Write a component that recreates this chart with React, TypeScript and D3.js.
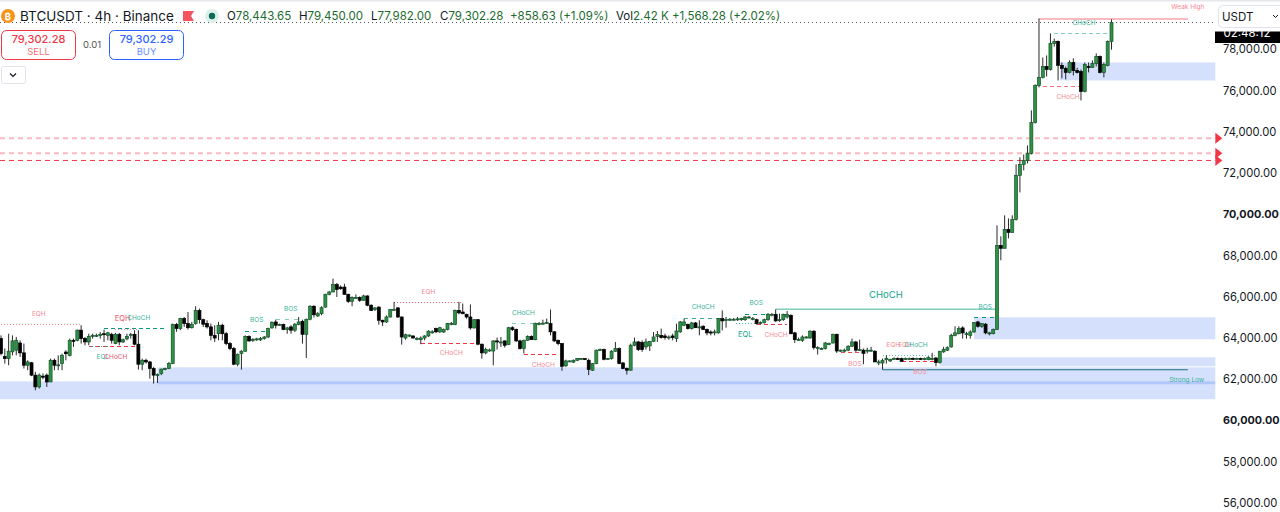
import React, { useEffect, useRef } from 'react';
import * as d3 from 'd3';

const FONT = 'Inter, Roboto, sans-serif';

// open, high, low, close of every 4h candle
const ohlc: number[][] = [
  [63970,64130,63160,63250],[63110,63490,62760,63000],[63000,64210,62680,63360],[63330,64130,63160,63860],
  [63410,64050,63160,63890],[63760,63890,63080,63280],[63280,63730,62520,62680],[62680,62920,62440,62840],
  [62800,62840,62150,62200],[62200,62360,61470,61630],[61630,62280,61550,62200],[62150,62280,62000,62100],
  [62200,62280,61630,61870],[61870,63000,61870,62920],[62920,63000,62440,62680],[62680,63160,62440,62700],
  [62760,63240,62440,63160],[63320,63410,62920,63240],[63160,63970,63110,63890],[63890,63970,63570,63840],
  [63890,64410,63840,64380],[64380,64620,63730,63970],[63970,64050,63650,63810],[63810,64210,63650,64080],
  [64100,64210,63970,64130],[64110,64210,64050,64130],[64130,64290,63970,64170],[64210,64410,63810,64160],
  [64130,64300,63890,64250],[64180,64250,63730,63890],[63730,64250,63700,64180],[64180,64250,63650,63810],
  [63810,63970,63760,63920],[63960,64210,63890,64080],[64170,64250,63970,64180],[64180,64380,63650,63700],
  [63700,64380,62470,62730],[62730,63000,62440,62920],[62920,63000,62760,62840],[62840,62890,62030,62520],
  [62520,62600,61790,62200],[62200,62280,61820,62230],[62280,62520,62200,62490],[62490,62560,62440,62520],
  [62520,62840,62490,62760],[62760,64700,62730,64650],[64650,64730,64300,64460],[64460,64980,64380,64940],
  [64940,65020,64540,64700],[64700,65260,64410,64500],[64500,64780,64460,64650],[64700,65540,64650,65340],
  [65340,65430,64700,64890],[64890,64940,64540,64670],[64700,64860,64460,64540],[64540,64700,63890,64130],
  [64130,64620,63810,64000],[64210,64780,63890,64620],
  [64620,64700,63890,64210],[64210,64300,63650,63730],[63730,63810,63410,63490],[63490,63570,62680,62730],
  [62730,63250,62630,63210],[63250,63410,62470,63360],[63360,64130,63330,64080],[64080,64130,63810,63860],
  [63880,63990,63810,63940],[63940,64010,63860,63960],[63910,64050,63860,63970],[63970,64100,63920,64050],
  [64050,64500,64000,64460],[64490,64810,64460,64760],[64780,64890,64460,64620],[64650,64700,64600,64660],
  [64650,64700,64380,64410],[64410,64540,64210,64490],[64540,64620,64210,64380],[64380,64730,64290,64670],
  [64650,65020,64620,64780],[64810,64890,63730,64180],[64180,64940,63030,64910],[64910,65590,64860,65540],
  [65540,65590,65000,65130],[65070,65260,65020,65180],[65180,65540,65100,65470],[65500,66150,65470,66120],
  [66120,66280,66070,66230],[66230,66880,66230,66590],[66590,66670,65990,66360],[66470,66550,66340,66390],
  [66470,66630,66100,66120],[66120,66150,65700,65780],[65780,66020,65540,65960],[65950,66120,65910,65960],
  [65960,66020,65750,65830],[65830,66100,65800,66040],[66040,66070,65540,65590],[65590,65630,65310,65340],
  [65380,65500,65310,65460],[65500,65540,64650,64860],[64860,64890,64580,64780],[64780,65100,64730,65020],
  [65020,65410,64990,65380],[65380,65750,65340,65390],[65460,65500,64970,65020],[65020,65050,63680,64050],
  [64000,64210,63920,64160],[64130,64180,64050,64140],[64100,64130,63970,64000],[63970,64050,63890,63980],
  [63920,64080,63700,64000],[64000,64130,63890,64100],[64100,64380,64050,64330],[64290,64380,64210,64300],
  [64460,64500,64240,64300],[64300,64540,64240,64500],
  [64290,64460,64250,64410],[64410,64730,64375,64700],[64690,64780,64620,64700],[64650,65380,64620,65340],
  [65340,65750,65150,65220],[65260,65670,65150,65180],[65150,65180,64940,65020],[65020,65630,64410,64490],
  [64490,64920,64460,64890],[64890,64920,63650,63700],[63700,63730,63000,63280],[63280,63530,63210,63440],
  [63410,63490,63330,63420],[63370,63890,62680,63860],[63860,64020,63440,63810],[63800,64050,63570,63810],
  [63860,63890,63540,63650],[63680,64540,63650,64500],[64500,64570,64340,64410],[64410,64460,63810,63860],
  [63860,63920,63440,63490],[63490,63920,63250,63890],[63890,64130,63860,64080],[64080,64130,63920,63920],
  [63920,64750,63890,64700],[64690,64780,64620,64700],[64700,64890,64650,64720],[64720,64940,64690,64750],
  [64700,65380,64130,64300],[64300,64340,63810,63860],[63890,63920,63650,63730],[63730,63760,62410,62630],
  [62650,62950,62600,62890],[62880,62920,62840,62890],[62830,62960,62790,62920],[62920,63030,62890,63000],
  [62990,63030,62950,63000],[63000,63030,62950,62990],[62920,63000,62200,62470],[62440,62790,62410,62760],
  [62760,63440,62730,63410],[63430,63490,63390,63440],[63440,63490,62920,62970],[63000,63030,62950,63010],
  [63000,63410,62950,63360],[63360,63810,63330,63490],[63490,63540,62730,62760],[62790,62840,62490,62520],
  [62520,62570,62230,62440],[62440,63730,62410,63650],[63650,64020,63600,63810],[63810,63860,63370,63440],
  [63780,63890,63330,63440],[63570,63970,63440,63810],[63620,63840,63370,63840],[63840,64290,63810,64050],
  [64080,64340,63810,64170],
  [64130,64460,63970,64020],[64100,64210,63920,64020],[64030,64130,63920,64050],[64100,64210,63890,64020],
  [63970,64700,63810,64340],[64300,64830,64250,64780],[64620,64940,64570,64780],[64650,64700,64410,64460],
  [64460,64780,64410,64730],[64730,64780,64500,64500],[64530,64860,64130,64540],[64570,64620,64410,64410],
  [64410,64460,64130,64250],[64290,64370,64130,64250],[64290,64410,64130,64300],[64250,64970,64210,64940],
  [64940,65340,64370,64830],[64890,65020,64500,64900],[64900,64970,64830,64910],[64900,64970,64860,64910],
  [64910,65020,64830,64930],[64890,64990,64830,64940],[64890,65070,64830,65020],[65010,65070,64940,65020],
  [64930,65020,64860,64940],[64890,64940,64650,64700],[64740,64810,64670,64750],[64750,64940,64700,64890],
  [64890,65210,64830,65150],[65140,65210,65050,65150],[65150,65390,64780,64830],[64880,65180,64780,64890],
  [64890,65180,64830,65150],[65020,65310,64940,65150],[65100,65150,64180,64210],[64250,64300,63760,63920],
  [63920,64020,63860,63930],[63890,64130,63810,64050],[64040,64100,63970,64050],[64000,64380,63970,64330],
  [64330,64380,63440,63540],[63530,63600,63200,63540],[63480,63540,63440,63490],[63490,63810,63440,63760],
  [63720,63780,63650,63730],[63760,64210,63730,64180],[64180,64210,63280,63370],[63400,63440,63330,63410],
  [63400,63490,63330,63410],[63410,63650,63360,63600],[63600,63970,63570,63810],[63810,63860,63330,63410],
  [63430,63920,63370,63440],[63410,63490,62730,63250],[63400,63530,63250,63410],[63400,63570,63330,63410],
  [63360,63410,62840,62840],[62830,62950,62680,62840],
  [62790,63000,62470,62920],[62990,63160,62760,63000],[62890,62990,62840,62970],[62990,63060,62950,63000],
  [63000,63060,62950,62990],[63000,63050,62870,62870],[62990,63050,62950,63000],[63000,63050,62950,63010],
  [63010,63060,62950,63000],[63000,63050,62960,63010],[63010,63050,62950,63000],[62970,63050,62920,63000],
  [62950,63120,62920,63050],[62990,63280,62920,63000],[63030,63080,62630,62810],[62810,63360,62760,63360],
  [63330,63570,63280,63440],[63410,63600,63370,63530],[63570,64210,63530,64130],[64130,64570,64080,64250],
  [64210,64570,64180,64460],[64490,64570,63970,64250],[64200,64300,63970,64210],[64130,64375,63970,64295],
  [64295,64750,64250,64750],[64780,64830,64500,64570],[64570,64730,64500,64700],[64670,64730,64180,64250],
  [64240,64300,64130,64250],[64210,64460,64180,64420],
  [64420,69460,64400,68490],[68490,68930,67770,68350],[68350,69950,68350,69270],[69270,69800,68830,69120],
  [69120,69950,69100,69750],[69750,72420,69700,71890],[71890,72760,71060,72420],[72420,72900,72130,72610],
  [72610,73340,72470,72950],[72950,75040,72900,74450],[74450,76300,74400,76250],[76250,79490,76150,76635],
  [76640,77600,76590,77170],[77170,77700,76680,77020],[77020,78770,76970,78280],[78280,78520,78130,78380],
  [78380,78430,76490,77220],[77220,77360,76590,77070],[77070,77170,76540,76880],[76880,77460,76830,77360],
  [77360,77560,76730,76970],[76970,77100,76830,76880],[76930,77020,75520,75960],[75960,77360,75910,77260],
  [77170,77360,76880,77120],[77120,77460,77100,77310],[77310,77800,77170,77650],[77650,77700,76830,76880],
  [76880,77360,76640,77260],[77220,78430,77170,78380],[78380,79450,77980,79300],
];

const priceTicks = [56000, 58000, 60000, 62000, 64000, 66000, 68000, 70000, 72000, 74000, 76000, 78000];
const boldTicks = [60000, 70000];

// [first candle, last candle, top, bottom] of the demand boxes
const RIGHT_EDGE = 318.2;
const zones: number[][] = [
  [-0.3, RIGHT_EDGE, 61900, 61030],
  [41, RIGHT_EDGE, 62580, 61760],
  [246, RIGHT_EDGE, 63066, 62630],
  [255, RIGHT_EDGE, 65005, 63938],
  [277.5, RIGHT_EDGE, 77362, 76490],
];

const alertLevels = [73690, 72960, 72610];
const alertOpacity = [0.35, 0.35, 1];
const alertWidth = [2, 2, 1];
const lastPrice = 79302.28;

type Level = [number, number, number, string, string, number];
const RED = '#f23645';
const TEAL = '#089981';
// [from, to, price, colour, dash, opacity]
const levels: Level[] = [
  [0, 21, 64650, RED, '1 2', 0.6],
  [30, 36, 64420, RED, '1 2', 0.6],
  [27, 43, 64470, TEAL, '4 3', 1],
  [23, 35, 63600, RED, '4 3', 1],
  [23, 28, 63600, TEAL, '1 2', 0.8],
  [64, 70, 64326, TEAL, '4 4', 1],
  [72, 78, 64908, TEAL, '4 5', 0.5],
  [103, 121, 65731, RED, '1 2', 0.8],
  [110, 124, 63730, RED, '4 3', 1],
  [134, 140, 64714, TEAL, '4 5', 0.5],
  [137, 146, 63211, RED, '4 3', 1],
  [179, 188, 64956, TEAL, '4 4', 0.8],
  [195, 201, 65150, TEAL, '4 4', 1],
  [192.5, 198, 64714, TEAL, '1 2', 0.7],
  [198, 206, 64650, RED, '4 3', 1],
  [220, 226, 63274, RED, '4 3', 0.9],
  [231, 245, 63130, TEAL, '1 2', 0.6],
  [236, 245, 62872, RED, '4 3', 1],
  [255, 260.5, 65005, TEAL, '4 4', 1],
  [273, 283, 76184, RED, '4 3', 0.7],
  [276, 290, 78782, TEAL, '4 3', 0.5],
];

// [from, to, price, colour, width]
const structureLines: [number, number, number, string, number][] = [
  [203, 261, 65392, '#7fcdbb', 1.4],
  [272, 311, 79470, '#f7727d', 1.2],
  [231, 311, 62460, '#1d6f78', 1],
];

const labelTexts = ['EQH', 'EQH', 'CHoCH', 'EQL', 'CHoCH', 'BOS', 'BOS', 'EQH', 'CHoCH', 'CHoCH', 'CHoCH', 'CHoCH', 'BOS', 'EQL', 'CHoCH', 'CHoCH', 'BOS', 'EQH', 'EQH', 'CHoCH', 'BOS', 'BOS', 'CHoCH', 'CHoCH', 'Weak High', 'Strong Low'];
const labelCandles = [9.9, 31.9, 36.1, 26.7, 30.1, 67, 75.9, 112, 118, 136.9, 142.1, 184, 197.9, 195, 203.1, 231.9, 223.8, 233.8, 236.9, 239.8, 240.8, 257.9, 279.6, 283.8, 311, 310.7];
const labelPrices = [65150, 64908, 64956, 63066, 63066, 64860, 65392, 66216, 63260, 65198, 62678, 65489, 65683, 64156, 64132, 66070, 62727, 63648, 63648, 63648, 62339, 65513, 75666, 79276, 80027, 61952];
const labelColors = ['p', 'r', 't', 't', 'r', 't', 't', 'p', 'p', 't', 'p', 't', 't', 'd', 'p', 'd', 'p', 'p', 'p', 't', 'p', 't', 'p', 't', 'p', 't'];
const labelColorMap: Record<string, string> = { p: '#f58a95', r: '#f0566a', t: '#38b39c', d: '#0fa48a' };

const headerValues = ['78,443.65', '79,450.00', '77,982.00', '79,302.28'];
const headerKeys = ['O', 'H', 'L', 'C'];
const headerX = [227, 299, 371, 440];

export default function App() {
  const ref = useRef<SVGSVGElement>(null);

  useEffect(() => {
    if (!ref.current) return;
    const svg = d3.select(ref.current);
    svg.selectAll('*').remove();

    const x = d3.scaleLinear().domain([0, ohlc.length - 1]).range([1, 1111.5]);
    const y = d3.scaleLinear().domain([56000, 78000]).range([503, 49.3]);

    // top strip of the page
    svg.append('rect').attr('width', 1280).attr('height', 1.5).attr('fill', '#e6e8ec');

    // order blocks
    svg.append('g').selectAll('rect').data(zones).join('rect')
      .attr('x', d => x(d[0]))
      .attr('width', d => x(d[1]) - x(d[0]))
      .attr('y', d => y(d[2]))
      .attr('height', d => y(d[3]) - y(d[2]))
      .attr('fill', '#2962f0')
      .attr('fill-opacity', 0.2);

    // alert lines with their right hand triangles
    const alerts = svg.append('g');
    alertLevels.forEach((p, i) => {
      alerts.append('line')
        .attr('x1', 0).attr('x2', x(RIGHT_EDGE))
        .attr('y1', y(p)).attr('y2', y(p))
        .attr('stroke', '#f23645')
        .attr('stroke-opacity', alertOpacity[i])
        .attr('stroke-width', alertWidth[i])
        .attr('stroke-dasharray', '5 4');
      alerts.append('path')
        .attr('d', d3.line()([[0, -5.5], [7, 0], [0, 5.5]]) + 'Z')
        .attr('transform', `translate(${x(RIGHT_EDGE)},${y(p)})`)
        .attr('fill', '#f23645');
    });

    // last price dotted line
    svg.append('line')
      .attr('x1', 0).attr('x2', x(RIGHT_EDGE))
      .attr('y1', y(lastPrice)).attr('y2', y(lastPrice))
      .attr('stroke', '#131722')
      .attr('stroke-opacity', 0.75)
      .attr('shape-rendering', 'crispEdges')
      .attr('stroke-dasharray', '1 3');

    svg.append('g').selectAll('line').data(levels).join('line')
      .attr('x1', d => x(d[0])).attr('x2', d => x(d[1]))
      .attr('y1', d => y(d[2])).attr('y2', d => y(d[2]))
      .attr('stroke', d => d[3])
      .attr('stroke-dasharray', d => d[4])
      .attr('shape-rendering', 'crispEdges')
      .attr('stroke-opacity', d => d[5]);

    svg.append('g').selectAll('line').data(structureLines).join('line')
      .attr('x1', d => x(d[0])).attr('x2', d => x(d[1]))
      .attr('y1', d => y(d[2])).attr('y2', d => y(d[2]))
      .attr('stroke', d => d[3])
      .attr('stroke-width', d => d[4]);

    // candles
    const candle = svg.append('g').selectAll('g').data(ohlc).join('g');
    candle.append('line')
      .attr('x1', (d, i) => x(i)).attr('x2', (d, i) => x(i))
      .attr('y1', d => y(d[1])).attr('y2', d => y(d[2]))
      .attr('stroke', '#111')
      .attr('stroke-width', 0.9);
    candle.append('rect')
      .attr('x', (d, i) => x(i) - 1.5)
      .attr('width', 3)
      .attr('y', d => y(Math.max(d[0], d[3])))
      .attr('height', d => Math.max(1, Math.abs(y(d[0]) - y(d[3]))))
      .attr('fill', d => (d[3] >= d[0] ? '#2f9145' : '#000'))
      .attr('stroke', d => (d[3] >= d[0] ? '#14532a' : '#000'))
      .attr('stroke-width', 0.7);

    // SMC labels
    svg.append('g').selectAll('text').data(labelTexts).join('text')
      .attr('x', (d, i) => x(labelCandles[i]))
      .attr('y', (d, i) => y(labelPrices[i]))
      .attr('text-anchor', 'middle')
      .attr('dominant-baseline', 'middle')
      .attr('font-family', FONT)
      .attr('font-size', (d, i) => (i === 15 ? 9.5 : i === 1 || i === 13 ? 7.5 : 6.5))
      .attr('fill', (d, i) => labelColorMap[labelColors[i]])
      .text(d => d);

    // price axis
    const axis = d3.axisRight(y)
      .tickValues(priceTicks)
      .tickSize(0)
      .tickPadding(0)
      .tickFormat(d => d3.format(',.2f')(d as number));
    const axisG = svg.append('g').attr('transform', 'translate(1223,0)').call(axis);
    axisG.select('.domain').remove();
    axisG.selectAll('text')
      .attr('font-family', FONT)
      .attr('font-size', (d: any) => (boldTicks.includes(d) ? 10.8 : 11.2))
      .attr('fill', '#131722')
      .attr('font-weight', (d: any) => (boldTicks.includes(d) ? 700 : 400));

    // countdown box, its text runs off the top of the tag
    const clock = svg.append('g');
    clock.append('rect').attr('x', 1215).attr('y', 31.5).attr('width', 65).attr('height', 11.5).attr('fill', '#000');
    clock.append('text').attr('x', 1247).attr('y', 37)
      .attr('text-anchor', 'middle').attr('font-family', FONT).attr('font-size', 11.5).attr('fill', '#fff')
      .text('02:48:12');

    // currency select
    const sel = svg.append('g');
    sel.append('rect').attr('x', 1218.5).attr('y', 5.5).attr('width', 70).attr('height', 22).attr('rx', 4)
      .attr('fill', '#fff').attr('stroke', '#e0e3eb');
    sel.append('text').attr('x', 1222).attr('y', 21).attr('font-family', FONT).attr('font-size', 11.5).attr('fill', '#131722').text('USDT');
    sel.append('path').attr('d', 'M1273 15l2.5 2.5l2.5-2.5').attr('fill', 'none').attr('stroke', '#131722');

    // legend
    const head = svg.append('g').attr('font-family', FONT);
    head.append('circle').attr('cx', 8).attr('cy', 16).attr('r', 7).attr('fill', '#f7931a');
    head.append('text').attr('x', 8).attr('y', 19.5).attr('text-anchor', 'middle').attr('font-size', 9.5).attr('font-weight', 700).attr('fill', '#fff').text('₿');
    head.append('text').attr('x', 20).attr('y', 21).attr('font-size', 13.5).attr('fill', '#131722').text('BTCUSDT · 4h · Binance');
    head.append('path').attr('d', 'M183 11h11l-3 5l3 5h-11z').attr('fill', '#f7525f');
    head.append('circle').attr('cx', 212).attr('cy', 16).attr('r', 7).attr('fill', '#dcefea');
    head.append('circle').attr('cx', 212).attr('cy', 16).attr('r', 3.2).attr('fill', '#0b6b57');
    headerKeys.forEach((k, i) => {
      const t = head.append('text').attr('x', headerX[i]).attr('y', 20).attr('font-size', 11.5).attr('fill', '#131722');
      t.append('tspan').text(k);
      t.append('tspan').attr('fill', '#1b6b2f').text(headerValues[i]);
    });
    head.append('text').attr('x', 510).attr('y', 20).attr('font-size', 11.5).attr('fill', '#1b6b2f').text('+858.63 (+1.09%)');
    const vol = head.append('text').attr('x', 616).attr('y', 20).attr('font-size', 11.5).attr('fill', '#131722');
    vol.append('tspan').text('Vol');
    vol.append('tspan').attr('fill', '#1b6b2f').text('2.42 K');
    head.append('text').attr('x', 672).attr('y', 20).attr('font-size', 11.5).attr('fill', '#1b6b2f').text('+1,568.28 (+2.02%)');

    // trade buttons
    const button = (bx: number, w: number, colour: string, price: string, name: string) => {
      head.append('rect').attr('x', bx).attr('y', 30.5).attr('width', w).attr('height', 29).attr('rx', 5)
        .attr('fill', '#fff').attr('stroke', colour);
      head.append('text').attr('x', bx + w / 2).attr('y', 43).attr('text-anchor', 'middle').attr('font-size', 11).attr('font-weight', 500).attr('fill', colour).text(price);
      head.append('text').attr('x', bx + w / 2).attr('y', 55).attr('text-anchor', 'middle').attr('font-size', 9.5).attr('fill', colour).attr('fill-opacity', 0.75).text(name);
    };
    button(1.5, 74, '#f23645', '79,302.28', 'SELL');
    button(109.5, 74, '#2962ff', '79,302.29', 'BUY');
    head.append('text').attr('x', 92).attr('y', 48).attr('text-anchor', 'middle').attr('font-size', 9.5).attr('fill', '#555').text('0.01');
    head.append('rect').attr('x', 1.5).attr('y', 66.5).attr('width', 24).attr('height', 17).attr('rx', 2).attr('fill', '#fff').attr('stroke', '#e0e3eb');
    head.append('path').attr('d', 'M10 73.5l3 3l3-3').attr('fill', 'none').attr('stroke', '#131722').attr('stroke-width', 1.2);
  }, []);

  return (
    <svg
      ref={ref}
      width={1280}
      height={512}
      style={{ position: 'fixed', left: 0, top: 0, background: '#fff' }}
    />
  );
}
